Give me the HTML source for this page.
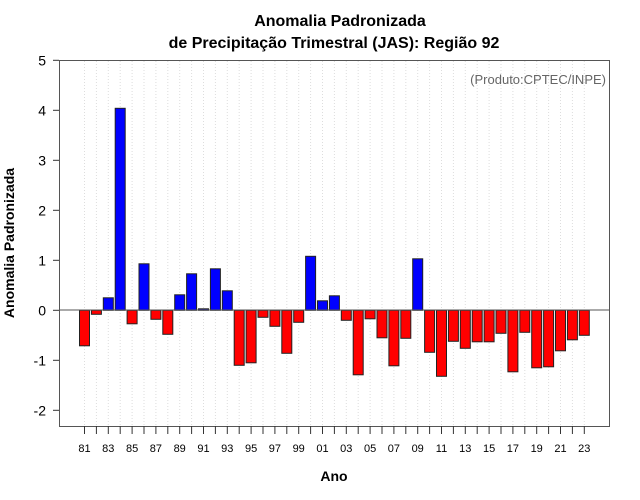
<!DOCTYPE html>
<html><head><meta charset="utf-8"><style>
body{margin:0;background:#fff;}
svg{display:block;font-family:"Liberation Sans",Arial,sans-serif;}
</style></head><body>
<svg id="chart" width="640" height="500">
<text x="340" y="26" text-anchor="middle" font-size="16" font-weight="bold">Anomalia Padronizada</text>
<text x="334" y="48" text-anchor="middle" font-size="16" font-weight="bold">de Precipitação Trimestral (JAS): Região 92</text>
<text x="14" y="243" transform="rotate(-90 14 243)" text-anchor="middle" font-size="14" font-weight="bold">Anomalia Padronizada</text>
<text x="334" y="481" text-anchor="middle" font-size="14" font-weight="bold">Ano</text>
<g id="grid"></g>
<g id="bars"></g>
<line x1="59" x2="609" y1="310" y2="310" stroke="#555" stroke-width="1"/>
<rect x="59.5" y="60.5" width="550" height="366" fill="none" stroke="#555" stroke-width="1"/>
<text x="606" y="84" text-anchor="end" font-size="13" fill="#666">(Produto:CPTEC/INPE)</text>
<g id="yaxis"></g>
<g id="xaxis"></g>
</svg>
<script>
const years = ["81","82","83","84","85","86","87","88","89","90","91","92","93","94","95","96","97","98","99","00","01","02","03","04","05","06","07","08","09","10","11","12","13","14","15","16","17","18","19","20","21","22","23"];
const values = [-0.71,-0.08,0.25,4.04,-0.27,0.93,-0.18,-0.48,0.31,0.73,0.03,0.83,0.39,-1.10,-1.05,-0.14,-0.32,-0.86,-0.24,1.08,0.19,0.29,-0.20,-1.29,-0.17,-0.55,-1.11,-0.56,1.03,-0.84,-1.32,-0.62,-0.76,-0.63,-0.63,-0.46,-1.23,-0.44,-1.15,-1.13,-0.81,-0.59,-0.50];
const yTicks = [-2,-1,0,1,2,3,4,5];
const NS="http://www.w3.org/2000/svg";
function yS(v){return 310.3 - v*50;}
function xS(i){return 84.5 + i*11.9;}
function mk(tag,attrs,parent){const e=document.createElementNS(NS,tag);for(const k in attrs)e.setAttribute(k,attrs[k]);parent.appendChild(e);return e;}
const grid=document.getElementById('grid'),bars=document.getElementById('bars'),ya=document.getElementById('yaxis'),xa=document.getElementById('xaxis');
years.forEach((y,i)=>{
  const x=xS(i);
  const g=mk('line',{x1:x,x2:x,y1:61,y2:426,stroke:'#ddd','stroke-dasharray':'1,2'},grid);
  
  
  const v=values[i];
  const top=Math.min(yS(v),yS(0)),h=Math.abs(yS(v)-yS(0));
  const r=mk('rect',{x:x-5,y:top,width:10,height:Math.max(h,0.8),fill:v>=0?'#0000ff':'#ff0000',stroke:'#222','stroke-width':1},bars);
  
  
  const t=mk('line',{x1:x,x2:x,y1:426,y2:434,stroke:'#333'},xa);
  
  
  if(i%2===0){
    const l=mk('text',{x:x,y:452,'text-anchor':'middle','font-size':11},xa);
    l.textContent=y;
    
    
  }
});
yTicks.forEach(v=>{
  const y=yS(v);
  const t=mk('line',{x1:53,x2:59,y1:y,y2:y,stroke:'#333'},ya);
  
  
  const l=mk('text',{x:46,y:y+5,'text-anchor':'end','font-size':14},ya);
  l.textContent=v;
  
  
});
</script>
</body></html>
